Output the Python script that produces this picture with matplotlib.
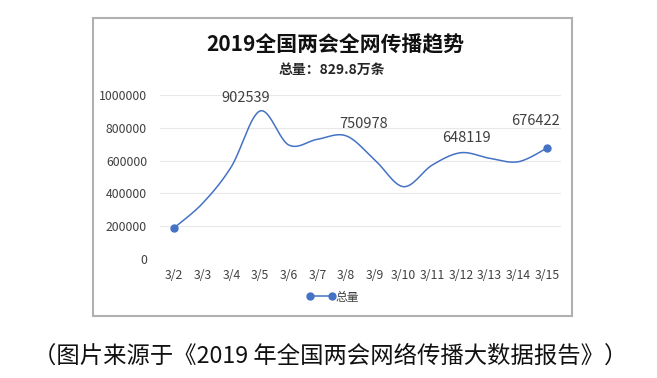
import numpy as np
import matplotlib.pyplot as plt
from matplotlib.patches import Rectangle
from matplotlib.lines import Line2D

plt.rcParams['font.family'] = ['Noto Sans CJK SC', 'DejaVu Sans']

# 数据
dates = ['3/2', '3/3', '3/4', '3/5', '3/6', '3/7', '3/8', '3/9', '3/10', '3/11', '3/12', '3/13', '3/14', '3/15']
totals = [189000, 340000, 563000, 902539, 695000, 730000, 750978, 604000, 441000, 573000, 648119, 614000, 593000, 676422]
labeled = ['3/5', '3/8', '3/12', '3/15']
yticks = [0, 200000, 400000, 600000, 800000, 1000000]

# 数据标签的像素偏移 (手动摆放)
label_offsets = {'3/5': (-14, 13), '3/8': (17, 12), '3/12': (5, 15), '3/15': (-12, 27)}


def smooth_curve(xs, ys, steps=30):
    # Excel 风格的平滑线 (Catmull-Rom -> Bezier)
    xs = np.asarray(xs, float)
    ys = np.asarray(ys, float)
    px = np.concatenate([[xs[0]], xs, [xs[-1]]])
    py = np.concatenate([[ys[0]], ys, [ys[-1]]])
    outx, outy = [], []
    t = np.linspace(0, 1, steps)
    for i in range(1, len(px) - 2):
        p0 = np.array([px[i], py[i]])
        p3 = np.array([px[i + 1], py[i + 1]])
        c1 = p0 + (np.array([px[i + 1], py[i + 1]]) - np.array([px[i - 1], py[i - 1]])) / 6
        c2 = p3 - (np.array([px[i + 2], py[i + 2]]) - np.array([px[i], py[i]])) / 6
        b = ((1 - t) ** 3)[:, None] * p0 + (3 * (1 - t) ** 2 * t)[:, None] * c1 \
            + (3 * (1 - t) * t ** 2)[:, None] * c2 + (t ** 3)[:, None] * p3
        outx.extend(b[:, 0])
        outy.extend(b[:, 1])
    return outx, outy


fig = plt.figure(figsize=(6.57, 3.78), dpi=100)
fig.patch.set_facecolor('white')

# 图表外框
frame = Rectangle((93 / 657, 1 - 316 / 378), (572 - 93) / 657, (316 - 18) / 378,
                  transform=fig.transFigure, facecolor='white', edgecolor='#b0b0b0', lw=1.5,
                  zorder=-1)
fig.patches.append(frame)

ax = fig.add_axes([159.6 / 657, 1 - 259 / 378, (561.4 - 159.6) / 657, (259 - 95) / 378])
ax.set_facecolor('none')

x = np.arange(len(dates))
sx, sy = smooth_curve(x, totals)
ax.plot(sx, sy, color='#4472C4', lw=1.1, zorder=3)
ax.plot([x[0], x[-1]], [totals[0], totals[-1]], 'o', color='#4472C4', ms=5, zorder=4)

for d in labeled:
    i = dates.index(d)
    dx, dy = label_offsets[d]
    ax.annotate(str(totals[i]), (x[i], totals[i]), xytext=(dx * 0.72, dy * 0.72),
                textcoords='offset points', ha='center', va='center', fontsize=10.5,
                color='#404040', annotation_clip=False)

ax.set_xlim(-0.5, len(dates) - 0.5)
ax.set_ylim(0, 1000000)
ax.set_yticks(yticks)
ax.set_yticklabels([str(v) for v in yticks])
ax.set_xticks(x)
ax.set_xticklabels(dates)
ax.tick_params(length=0, labelsize=8.8, colors='#404040', pad=7)
ax.tick_params(axis='y', pad=9)
ax.grid(axis='y', color='#e8e8e8', lw=0.8)
for s in ax.spines.values():
    s.set_visible(False)

fig.text(335 / 657, 1 - 45 / 378, '2019全国两会全网传播趋势', ha='center', va='center',
         fontsize=15, fontweight='bold', color='#111111')
fig.text(332 / 657, 1 - 70 / 378, '总量：829.8万条', ha='center', va='center',
         fontsize=10, fontweight='bold', color='#262626')

handle = Line2D([], [], color='#4472C4', lw=1.1, marker='o', ms=5)
fig.legend([handle], ['总量'], loc='center', bbox_to_anchor=(333 / 657, 1 - 297 / 378),
           frameon=False, fontsize=8.5, numpoints=2, handlelength=2.4, handletextpad=0.05,
           labelcolor='#404040')

fig.text(330 / 657, 1 - 356 / 378, '（图片来源于《2019 年全国两会网络传播大数据报告》）',
         ha='center', va='center', fontsize=16.8, color='#111111')

fig.savefig('out.png', dpi=100)
